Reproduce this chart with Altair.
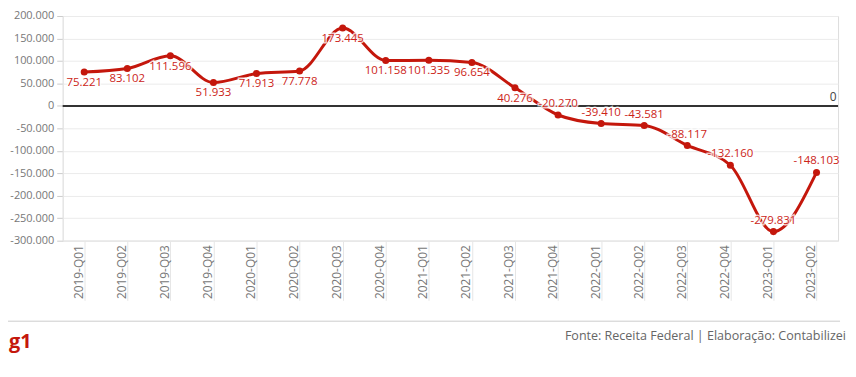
import altair as alt
import pandas as pd

quarters = ["2019-Q01", "2019-Q02", "2019-Q03", "2019-Q04",
            "2020-Q01", "2020-Q02", "2020-Q03", "2020-Q04",
            "2021-Q01", "2021-Q02", "2021-Q03", "2021-Q04",
            "2022-Q01", "2022-Q02", "2022-Q03", "2022-Q04",
            "2023-Q01", "2023-Q02"]
values = [75221, 83102, 111596, 51933, 71913, 77778, 173445, 101158, 101335,
          96654, 40276, -20270, -39410, -43581, -88117, -132160, -279831, -148103]
y_ticks = [200000, 150000, 100000, 50000, 0, -50000, -100000, -150000,
           -200000, -250000, -300000]

RED = "#c4170c"
FONT = "Open Sans"

df = pd.DataFrame({"q": quarters, "v": values})
df["lab"] = [f"{v:,}".replace(",", ".") for v in values]
zdf = pd.DataFrame({"v": [0], "lab": ["0"]})

W, H = 780, 226

x_enc = alt.X("q:N", sort=None,
              scale=alt.Scale(type="point", padding=0.5),
              axis=alt.Axis(title=None, labelAngle=270, tickSize=60, labelPadding=-56,
                            tickColor="#e6e6e6", domainColor="#e6e6e6", labelColor="#777",
                            labelFontSize=12, labelFont=FONT, labelOffset=-6, grid=False))
y_axis = alt.Axis(title=None, values=y_ticks, tickSize=6, tickColor="#cccccc",
                  domainColor="#e6e6e6", grid=True, gridColor="#ebebeb",
                  labelColor="#777", labelOverlap=False,
                  labelFontSize=11, labelFont=FONT, labelPadding=3,
                  labelExpr="replace(replace(format(datum.value, ','), /,/g, '.'), /\u2212/g, '-')")
y_scale = alt.Scale(domain=[-300000, 200000], nice=False, zero=False)


def Y():
    return alt.Y("v:Q", scale=y_scale, axis=y_axis)


base = alt.Chart(df)

line = base.mark_line(color=RED, strokeWidth=3, interpolate="monotone").encode(x=x_enc, y=Y())
zero = alt.Chart(zdf).mark_rule(color="#333333", strokeWidth=2).encode(y=Y())
zero_lab = alt.Chart(zdf).mark_text(
    fontSize=12, font=FONT, color="#444", align="center", baseline="middle", dy=-9
).encode(x=alt.value(775), y=Y(), text="lab:N")

pts = base.mark_circle(color=RED, size=50, opacity=1).encode(x=x_enc, y=Y())


def labels(flt, dy, halo):
    kw = dict(fontSize=11.5, font=FONT, baseline="middle", dy=dy)
    if halo:
        kw.update(color="white", stroke="white", strokeWidth=3, strokeOpacity=0.75)
    else:
        kw.update(color="#cc2418")
    return base.transform_filter(flt).mark_text(**kw).encode(x=x_enc, y=Y(), text="lab:N")


layers = [line, zero, pts,
          labels("datum.v >= 0", 11, True), labels("datum.v < 0", -11, True),
          labels("datum.v >= 0", 11, False), labels("datum.v < 0", -11, False),
          zero_lab]

dummy = pd.DataFrame({"a": [0]})
foot_line = alt.Chart(dummy).mark_rule(color="#cccccc", strokeWidth=1).encode(
    x=alt.value(-55), x2=alt.value(782), y=alt.value(307))
g1 = alt.Chart(dummy).mark_text(
    fontSize=20, font=FONT, fontWeight="bold", color=RED, align="left", baseline="alphabetic"
).encode(x=alt.value(-54), y=alt.value(334), text=alt.value("g1"))
src = alt.Chart(dummy).mark_text(
    fontSize=12.6, font=FONT, color="#666", align="right", baseline="alphabetic"
).encode(x=alt.value(788), y=alt.value(326),
         text=alt.value("Fonte: Receita Federal | Elaboração: Contabilizei"))

chart = alt.layer(*layers, foot_line, g1, src).properties(
    width=W, height=H,
    autosize=alt.AutoSizeParams(type="none"),
    padding={"left": 55, "top": 7, "right": 10, "bottom": 125},
).configure_view(stroke=None).configure(background="white")

chart.save("out.html", embed_options={"renderer": "svg", "actions": False})
